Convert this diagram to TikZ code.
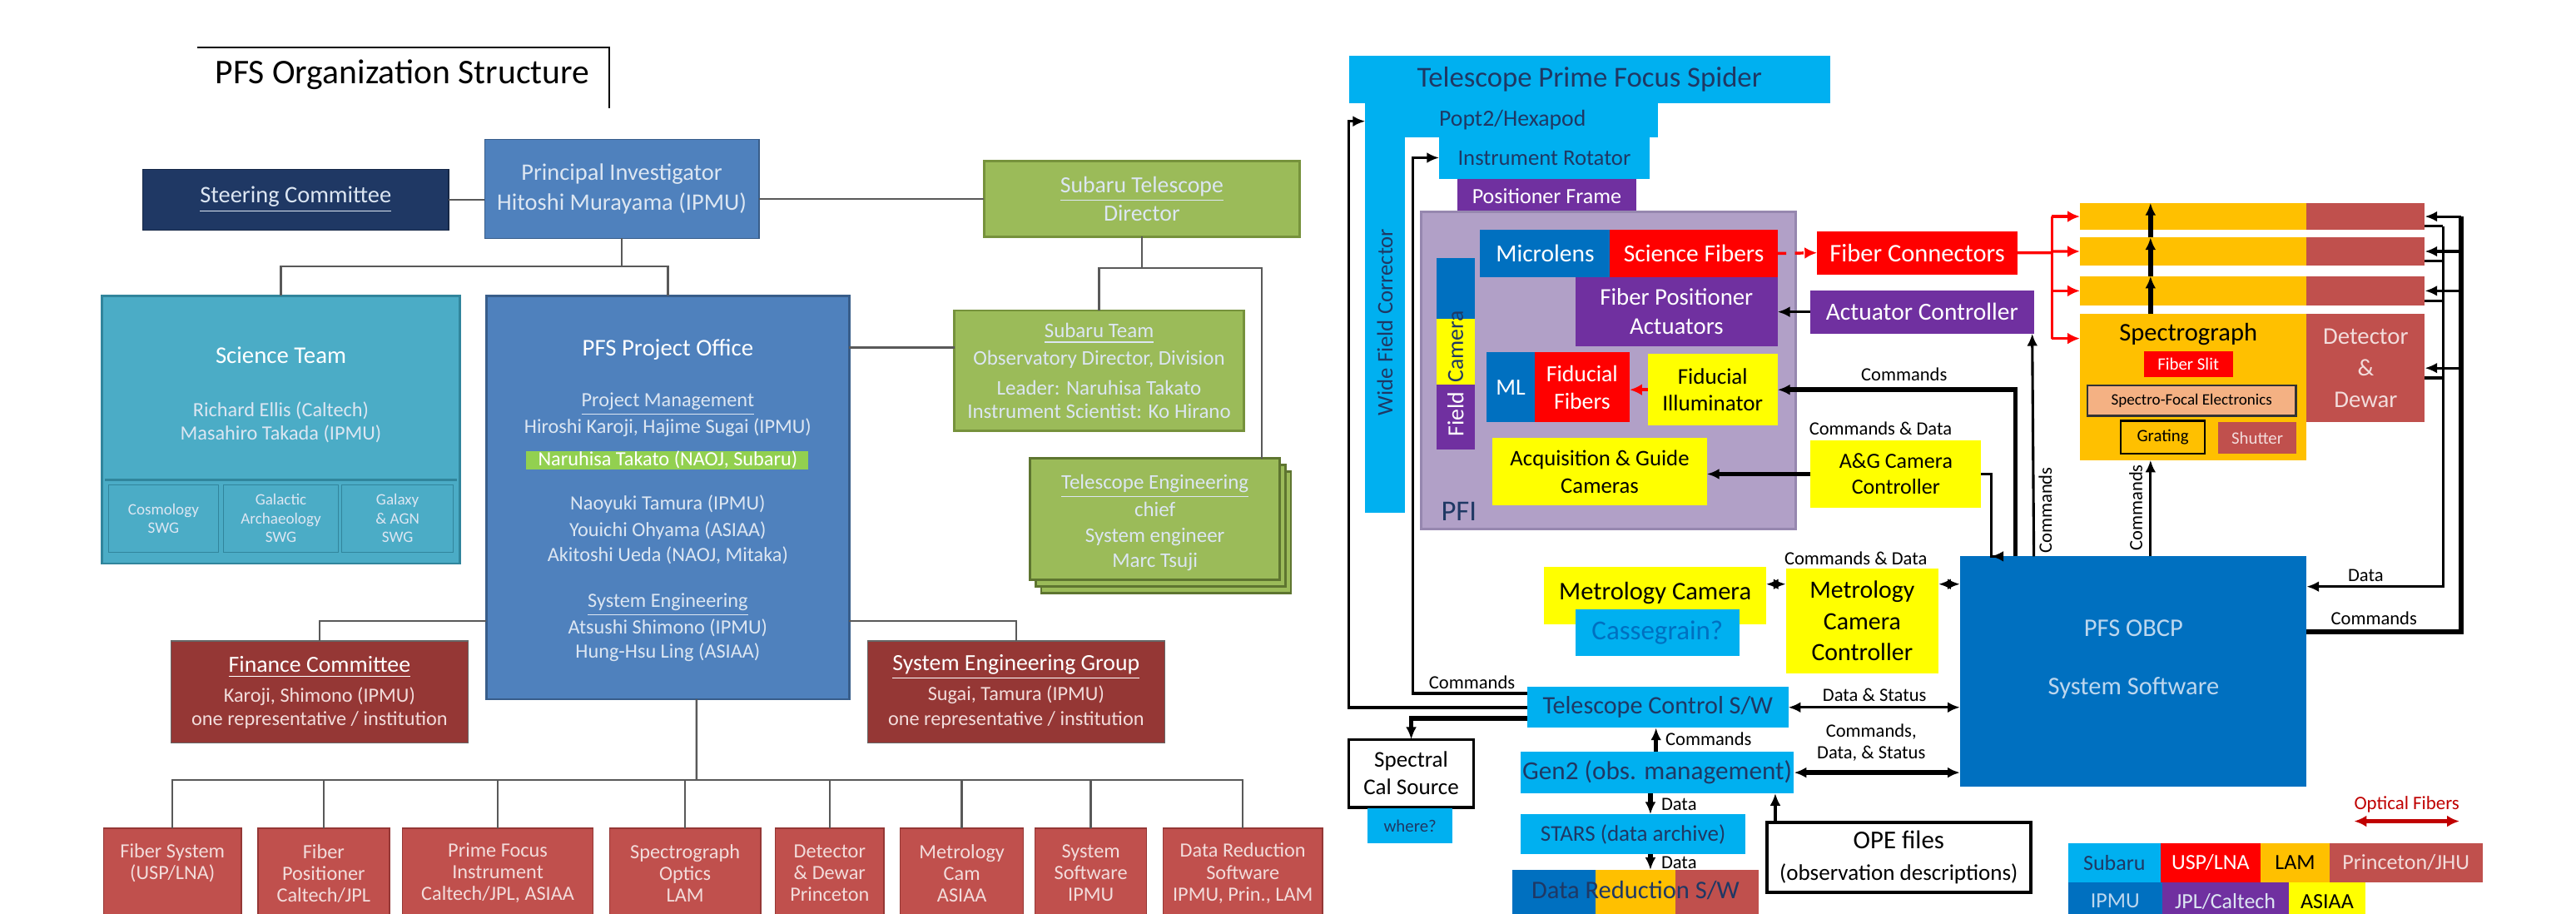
\documentclass[tikz,border=0pt]{standalone}
\usepackage{fontspec}
\setmainfont{Carlito}
\usetikzlibrary{arrows.meta}
\definecolor{cNavy}{RGB}{31,56,100}
\definecolor{cSteel}{RGB}{79,129,189}
\definecolor{cSteelB}{RGB}{56,93,138}
\definecolor{cSci}{RGB}{75,172,198}
\definecolor{cSciB}{RGB}{49,133,156}
\definecolor{cOlive}{RGB}{155,187,89}
\definecolor{cOliveB}{RGB}{118,146,60}
\definecolor{cMaroon}{RGB}{149,55,53}
\definecolor{cBrick}{RGB}{192,80,77}
\definecolor{cLime}{RGB}{146,208,80}
\definecolor{cLine}{RGB}{89,89,89}
\definecolor{cCyan}{RGB}{0,176,240}
\definecolor{cBlue}{RGB}{0,112,192}
\definecolor{cPurple}{RGB}{112,48,160}
\definecolor{cLav}{RGB}{177,160,199}
\definecolor{cLavB}{RGB}{150,135,175}
\definecolor{cRed}{RGB}{255,0,0}
\definecolor{cYel}{RGB}{255,255,0}
\definecolor{cOrange}{RGB}{255,192,0}
\definecolor{cPeach}{RGB}{244,177,131}
\definecolor{cDkRed}{RGB}{192,0,0}
\definecolor{cPale}{RGB}{220,230,242}
\definecolor{cPink}{RGB}{242,220,219}
\definecolor{cLtBlue}{RGB}{189,215,238}
\newcommand\fs[2]{\fontsize{#1}{#2}\selectfont}
\newcommand\RB[7]{\node[rb,#6,minimum width={(#4-#2)*0.2mm},minimum height={(#5-#3)*0.2mm}] (#1) at (#2,#3) {#7};}
\begin{document}
\begin{tikzpicture}[x=0.2mm,y=-0.2mm,
  rb/.style={anchor=north west,inner sep=0pt,outer sep=0pt,align=center},
  tx/.style={inner sep=0pt,outer sep=0pt,align=center},
  org/.style={draw=cLine,line width=0.7pt},
  blk/.style={draw=black,line width=0.9pt,-{Latex[length=1.5mm,width=1.3mm]}},
  blkb/.style={draw=black,line width=0.9pt,{Latex[length=1.5mm,width=1.3mm]}-{Latex[length=1.5mm,width=1.3mm]}},
  thk/.style={line width=1.6pt},
  fib/.style={draw=cRed,line width=1pt,-{Latex[length=1.5mm,width=1.4mm]}},
  lbl/.style={tx,font=\fs{6.5}{7.5}}]
\useasboundingbox (0,0) rectangle (1568,556);
\fill[white] (0,0) rectangle (1568,556);

%================ LEFT: organisation =================
\node[tx,font=\fs{12}{14}] (title) at (245,45.5) {PFS Organization Structure};
\draw[line width=0.6pt] (120,29) -- (371,29) -- (371,66);

\RB{steer}{87}{103}{273}{140}{fill=cNavy,draw=cNavy!70!black,text=cPale,font=\fs{8.2}{10}}{\underline{Steering Committee}}
\RB{pi}{295}{85}{462}{145}{fill=cSteel,draw=cSteelB,text=cPale,font=\fs{8.2}{10.5}}{Principal Investigator\\Hitoshi Murayama (IPMU)}
\RB{subtel}{599}{98}{791}{144}{fill=cOlive,draw=cOliveB,line width=0.8pt,text=cPale,font=\fs{8}{10}}{\underline{Subaru Telescope}\\Director}

% Science team
\RB{sci}{62}{180}{280}{343}{fill=cSci,draw=cSciB,line width=0.8pt}{}
\node[tx,text=white,font=\fs{8.3}{10}] (sciT) at (171,216) {Science Team};
\node[tx,text=cPale,font=\fs{7}{8}] (sciN) at (171,257) {Richard Ellis (Caltech)\\Masahiro Takada (IPMU)};
\draw[cSciB,line width=0.8pt] (64,292) -- (278,292);
\RB{swa}{66}{295}{133}{336}{fill=cSci,draw=cSciB,text=cPale,font=\fs{5.5}{6.5}}{Cosmology\\SWG}
\RB{swb}{136}{295}{206}{336}{fill=cSci,draw=cSciB,text=cPale,font=\fs{5.5}{6.5}}{Galactic\\Archaeology\\SWG}
\RB{swc}{208}{295}{276}{336}{fill=cSci,draw=cSciB,text=cPale,font=\fs{5.5}{6.5}}{Galaxy\\\& AGN\\SWG}

% Project office
\RB{po}{296}{180}{517}{425.6}{fill=cSteel,draw=cSteelB,line width=0.8pt}{}
\RB{band}{320}{274.5}{492}{285.5}{fill=cLime}{}
\node[tx,text=white,font=\fs{8.3}{10}] (poT) at (406.5,213) {PFS Project Office};
\node[tx,text=cPale,font=\fs{7}{8}] (poA) at (406.5,246) {\underline{Project Management}};
\node[tx,text=cPale,font=\fs{7}{8}] (poB) at (406.5,260) {Hiroshi Karoji, Hajime Sugai (IPMU)};
\node[tx,text=white,font=\fs{7}{8}] (poC) at (406.5,280) {Naruhisa Takato (NAOJ, Subaru)};
\node[tx,text=cPale,font=\fs{7}{8}] (poD) at (406.5,307) {Naoyuki Tamura (IPMU)};
\node[tx,text=cPale,font=\fs{7}{8}] (poE) at (406.5,323) {Youichi Ohyama (ASIAA)};
\node[tx,text=cPale,font=\fs{7}{8}] (poF) at (406.5,338) {Akitoshi Ueda (NAOJ, Mitaka)};
\node[tx,text=cPale,font=\fs{7}{8}] (poG) at (406.5,368) {\underline{System Engineering}};
\node[tx,text=cPale,font=\fs{7}{8}] (poH) at (406.5,382) {Atsushi Shimono (IPMU)};
\node[tx,text=cPale,font=\fs{7}{8}] (poI) at (406.5,397) {Hung-Hsu Ling (ASIAA)};

% Subaru team
\RB{subteam}{581}{189}{757}{262}{fill=cOlive,draw=cOliveB,line width=0.8pt}{}
\node[tx,text=cPale,font=\fs{7.2}{8}] (stA) at (669,203) {\underline{Subaru Team}};
\node[tx,text=cPale,font=\fs{7.2}{8}] (stB) at (669,219) {Observatory Director, Division};
\node[tx,text=cPale,font=\fs{7.2}{8}] (stC) at (669,236) {Leader: Naruhisa Takato};
\node[tx,text=cPale,font=\fs{7.2}{8}] (stD) at (669,250) {Instrument Scientist: Ko Hirano};

% Telescope engineering (stacked)
\RB{teB}{633.8}{286.8}{785.8}{360.8}{fill=cOlive,draw=cOliveB!80!black,line width=0.8pt}{}
\RB{teA}{630.4}{282.9}{782.4}{356.9}{fill=cOlive,draw=cOliveB!80!black,line width=0.8pt}{}
\RB{teleng}{627}{279}{779}{353}{fill=cOlive,draw=cOliveB!80!black,line width=0.8pt}{}
\node[tx,text=cPale,font=\fs{7.2}{8}] (teT1) at (703,296) {\underline{Telescope Engineering}};
\node[tx,text=cPale,font=\fs{7.2}{8}] (teT2) at (703,310) {chief};
\node[tx,text=cPale,font=\fs{7.2}{8}] (teT3) at (703,327) {System engineer};
\node[tx,text=cPale,font=\fs{7.2}{8}] (teT4) at (703,342) {Marc Tsuji};

% Committees
\RB{fin}{104}{390}{285}{452}{fill=cMaroon,draw=black!60}{}
\node[tx,text=white,font=\fs{8}{9}] (finA) at (194.5,406) {\underline{Finance Committee}};
\node[tx,text=cPink,font=\fs{7}{8}] (finB) at (194.5,424) {Karoji, Shimono (IPMU)};
\node[tx,text=cPink,font=\fs{7}{8}] (finC) at (194.5,438) {one representative / institution};
\RB{seg}{528}{390}{709}{452}{fill=cMaroon,draw=black!60}{}
\node[tx,text=white,font=\fs{8}{9}] (segA) at (618.5,406) {\underline{System Engineering Group}};
\node[tx,text=cPink,font=\fs{7}{8}] (segB) at (618.5,423) {Sugai, Tamura (IPMU)};
\node[tx,text=cPink,font=\fs{7}{8}] (segC) at (618.5,438) {one representative / institution};

% Bottom row
\RB{bA}{63}{504}{147}{575}{fill=cBrick,draw=cMaroon}{}
\RB{bB}{157}{504}{237}{575}{fill=cBrick,draw=cMaroon}{}
\RB{bC}{245}{504}{361}{575}{fill=cBrick,draw=cMaroon}{}
\RB{bD}{371}{504}{463}{575}{fill=cBrick,draw=cMaroon}{}
\RB{bE}{472}{504}{538}{575}{fill=cBrick,draw=cMaroon}{}
\RB{bF}{548}{504}{623}{575}{fill=cBrick,draw=cMaroon}{}
\RB{bG}{630}{504}{698}{575}{fill=cBrick,draw=cMaroon}{}
\RB{bH}{708}{504}{805}{575}{fill=cBrick,draw=cMaroon}{}
\node[tx,text=cPink,font=\fs{7}{7.5}] (bAt) at (105,525) {Fiber System\\(USP/LNA)};
\node[tx,text=cPink,font=\fs{7}{7.5}] (bBt) at (197,531.5) {Fiber\\Positioner\\Caltech/JPL};
\node[tx,text=cPink,font=\fs{7}{7.5}] (bCt) at (303,531.5) {Prime Focus\\Instrument\\Caltech/JPL, ASIAA};
\node[tx,text=cPink,font=\fs{7}{7.5}] (bDt) at (417,531.5) {Spectrograph\\Optics\\LAM};
\node[tx,text=cPink,font=\fs{7}{7.5}] (bEt) at (505,531.5) {Detector\\\& Dewar\\Princeton};
\node[tx,text=cPink,font=\fs{7}{7.5}] (bFt) at (585.5,531.5) {Metrology\\Cam\\ASIAA};
\node[tx,text=cPink,font=\fs{7}{7.5}] (bGt) at (664,531.5) {System\\Software\\IPMU};
\node[tx,text=cPink,font=\fs{7}{7.5}] (bHt) at (756.5,531.5) {Data Reduction\\Software\\IPMU, Prin., LAM};

% Org connectors
\draw[org] (steer.east) -- (steer.east -| pi.west);
\draw[org] (subtel.west -| pi.east) -- (subtel.west);
\coordinate (hubA) at (378.5,162);
\draw[org] (pi.south) -- (hubA);
\draw[org] (sci.north) |- (hubA) -| (po.north);
\draw[org] (po.east |- 0,211.5) -- (subteam.west |- 0,211.5);
\coordinate (hubB) at (695,163);
\draw[org] (subtel.south) -- (hubB);
\draw[org] (subteam.north) |- (hubB) -| ([xshift=13mm]teleng.north);
\draw[org] (fin.north) |- (po.west |- 0,378);
\draw[org] (seg.north) |- (po.east |- 0,378);
\coordinate (hubC) at (424,474.7);
\draw[org] ([xshift=3.5mm]po.south) -- (hubC);
\draw[org] (bA.north) |- (hubC) -| (bH.north);
\foreach \b in {bB,bC,bD,bE,bF,bG}{\draw[org] (\b.north) -- (\b.north |- hubC);}

%================ RIGHT: system block diagram =================
\RB{spider}{821}{34}{1114}{63}{fill=cCyan,text=cNavy,font=\fs{10}{12}}{Telescope Prime Focus Spider}
\RB{wfc}{831}{62}{855}{312}{fill=cCyan}{}
\node[tx,rotate=90,text=cNavy,font=\fs{7.7}{9}] (wfcT) at (843,196) {Wide Field Corrector};
\RB{popt}{831}{62}{1009}{83.5}{fill=cCyan}{}
\node[tx,anchor=west,text=cNavy,font=\fs{8}{9}] (poptT) at (876,73) {Popt2/Hexapod};
\RB{rot}{876}{83.5}{1004}{108.7}{fill=cCyan,text=cNavy,font=\fs{7.7}{9}}{Instrument Rotator}
\RB{pframe}{887}{108.7}{996}{130}{fill=cPurple,text=white,font=\fs{7.5}{9}}{Positioner Frame}
\RB{pfi}{865}{129}{1093}{322}{fill=cLav,draw=cLavB,line width=1pt}{}
\node[tx,text=cNavy,font=\fs{10}{12}] (pfiT) at (888,311) {PFI};
\RB{fcA}{874.6}{157}{897.6}{194}{fill=cBlue}{}
\RB{fcB}{874.6}{194}{897.6}{234}{fill=cYel}{}
\RB{fcC}{874.6}{234}{897.6}{273.5}{fill=cPurple}{}
\node[tx,rotate=90,text=cNavy,font=\fs{8}{9}] (fcamT) at (886,211) {Camera};
\node[tx,rotate=90,text=white,font=\fs{8}{9}] (fcamF) at (886,252) {Field};
\RB{mlens}{901}{139.7}{980}{168.8}{fill=cBlue,text=white,font=\fs{8.5}{10}}{Microlens}
\RB{sfib}{980}{139.7}{1082}{168.8}{fill=cRed,text=white,font=\fs{8.5}{10}}{Science Fibers}
\RB{fpa}{959}{168.8}{1082}{210.5}{fill=cPurple,text=white,font=\fs{8.3}{10}}{Fiber Positioner\\Actuators}
\RB{mlf}{905}{214.4}{934}{257}{fill=cBlue,text=white,font=\fs{8}{9.5}}{ML}
\RB{ffib}{934}{214.4}{992}{257}{fill=cRed,text=white,font=\fs{8}{9.5}}{Fiducial\\Fibers}
\RB{fill}{1003}{215.4}{1082}{259}{fill=cYel,text=black,font=\fs{7.8}{9.5}}{Fiducial\\Illuminator}
\RB{agc}{908.5}{266.7}{1039}{307.5}{fill=cYel,text=black,font=\fs{7.7}{9.5}}{Acquisition \& Guide\\Cameras}
\RB{fconn}{1106}{140.7}{1228}{167}{fill=cRed,text=white,font=\fs{8.8}{10}}{Fiber Connectors}
\RB{actc}{1102}{176.6}{1238}{203}{fill=cPurple,text=white,font=\fs{8.5}{10}}{Actuator Controller}
\RB{agctl}{1102}{268}{1206}{309}{fill=cYel,text=black,font=\fs{7.5}{9}}{A\&G Camera\\Controller}

% Spectrograph and detector
\RB{sA}{1266}{123.5}{1404}{140}{fill=cOrange}{}
\RB{sB}{1266}{144.5}{1404}{161.5}{fill=cOrange}{}
\RB{sC}{1266}{168}{1404}{186}{fill=cOrange}{}
\RB{spec}{1266}{191}{1404}{280}{fill=cOrange}{}
\RB{dA}{1404}{123.5}{1476}{140}{fill=cBrick}{}
\RB{dB}{1404}{144.5}{1476}{161.5}{fill=cBrick}{}
\RB{dC}{1404}{168}{1476}{186}{fill=cBrick}{}
\RB{det}{1404}{191}{1476}{257}{fill=cBrick,text=cPink,font=\fs{8.3}{11}}{Detector\\\&\\Dewar}
\node[tx,text=black,font=\fs{8.8}{10}] (specT) at (1332,203.5) {Spectrograph};
\RB{slit}{1305}{213.6}{1359}{229.5}{fill=cRed,text=white,font=\fs{6}{7}}{Fiber Slit}
\RB{elec}{1270.5}{234.6}{1397.6}{253}{fill=cPeach,draw=black!80,line width=0.7pt,text=black,font=\fs{5.5}{6.5}}{Spectro-Focal Electronics}
\RB{grat}{1291}{256}{1342}{276}{fill=cOrange,draw=black,line width=0.7pt,text=black,font=\fs{6}{7}}{Grating}
\RB{shut}{1350}{257}{1398}{276}{fill=cBrick,text=cPink,font=\fs{6}{7}}{Shutter}
\draw[blk,thk] (sB.north -| 1309,0) -- (sA.north -| 1309,0);
\draw[blk,thk] (sC.north -| 1309,0) -- (sB.north -| 1309,0);
\draw[blk,thk] (spec.north -| 1309,0) -- (sC.north -| 1309,0);

% Metrology etc.
\RB{metcam}{940}{345}{1075}{380}{fill=cYel,text=black,font=\fs{8.8}{10}}{\raisebox{1.2mm}{Metrology Camera}}
\RB{cass}{959}{370.6}{1058.7}{399}{fill=cCyan,text=cBlue,font=\fs{9.5}{11}}{Cassegrain?}
\RB{metctl}{1087}{346}{1180}{410}{fill=cYel,text=black,font=\fs{8.6}{10.8}}{Metrology\\Camera\\Controller}
\RB{obcp}{1193}{338.6}{1404}{479}{fill=cBlue}{}
\node[tx,text=cLtBlue,font=\fs{8.8}{10}] (obcpA) at (1298.7,382.5) {PFS OBCP};
\node[tx,text=cLtBlue,font=\fs{8.8}{10}] (obcpB) at (1298.7,418.8) {System Software};
\RB{tcs}{929.7}{418}{1088.5}{443}{fill=cCyan,text=cNavy,font=\fs{8.7}{10}}{Telescope Control S/W}
\RB{gen2}{925.5}{457.6}{1092}{482.8}{fill=cCyan,text=cNavy,font=\fs{9}{10}}{Gen2 (obs. management)}
\RB{stars}{925.5}{495.6}{1062.6}{520}{fill=cCyan,text=cNavy,font=\fs{7.8}{9}}{STARS (data archive)}
\RB{drsA}{920.5}{529.4}{971}{575}{fill=cBlue}{}
\RB{drsB}{971}{529.4}{1019.7}{575}{fill=cOrange}{}
\RB{drsC}{1019.7}{529.4}{1070.5}{575}{fill=cBrick}{}
\node[tx,text=cNavy,font=\fs{8.8}{10}] (drsT) at (995.5,542) {Data Reduction S/W};
\RB{cal}{821}{450}{897}{491.4}{fill=white,draw=black,line width=1pt,text=black,font=\fs{7.8}{9.5}}{Spectral\\Cal Source}
\RB{where}{832.6}{492}{884}{513}{fill=cCyan,text=cNavy,font=\fs{6}{7}}{where?}
\RB{ope}{1075.5}{500.6}{1236}{543}{fill=white,draw=black,line width=1.2pt,text=black,font=\fs{8.9}{11}}{OPE files\\{\fs{7.8}{9}(observation descriptions)}}

% Fibre connections (red)
\draw[fib,dashed] (sfib.east) -- (fconn.west);
\draw[fib,dashed] (fill.west) -- (fill.west -| ffib.east);
\coordinate (fibJ) at (1249,153.8);
\draw[draw=cRed,line width=1pt] (fconn.east) -- (fibJ);
\draw[draw=cRed,line width=1pt] (1249,131.75) -- (1249,206);
\draw[fib] (1249,131.75) -- (sA.west);
\draw[fib] (1249,153) -- (sB.west);
\draw[fib] (1249,177) -- (sC.west);
\draw[fib] (1249,206) -- (spec.west |- 0,206);

% Black command / data connections
\draw[blk] (actc.west) -- (actc.west -| fpa.east);
\draw[blk,thk] (obcp.north -| 1226.8,0) |- (fill.east);
\node[lbl] (cmdA) at (1159,228) {Commands};
\draw[blk,thk] (agctl.west) -- (agctl.west -| agc.east);
\draw[blk] (agctl.east) -- ++(1.2mm,0) |- (obcp.north -| 1212,0);
\node[lbl] (cmdB) at (1144.7,261) {Commands \& Data};
\draw[blk] (obcp.north -| actc.east) -- ([xshift=-0.2mm]actc.south east);
\node[lbl,rotate=90] (cmdC) at (1245,310.6) {Commands};
\draw[blk] (obcp.north -| 1309,0) -- (spec.south -| 1309,0);
\node[lbl,rotate=90] (cmdD) at (1300,309) {Commands};

% Detector links
\draw[draw=black,thk] (obcp.east |- 0,384.6) -| (1498,131.75);
\foreach \d in {dA,dB,dC,det}{\draw[blk] (\d.east -| 1498,0) -- (\d.east);}
\draw[blk] (1487,137.75) -- (1487,357) -- (obcp.east |- 0,357);
\foreach \d in {dA,dB,dC,det}{\draw[draw=black,line width=0.9pt] ([yshift=-1.2mm]\d.east) -- ([yshift=-1.2mm]\d.east -| 1487,0);}
\node[lbl] (datA) at (1440,350) {Data};
\node[lbl] (cmdE) at (1445,376.5) {Commands};

% Metrology links
\draw[blkb] (metcam.east |- 0,355.5) -- (metctl.west |- 0,355.5);
\draw[blkb] (metctl.east |- 0,355.5) -- (obcp.west |- 0,355.5);
\node[lbl] (cmdF) at (1129.6,340) {Commands \& Data};

% Telescope control / Gen2
\draw[blkb] (tcs.east) -- (tcs.east -| obcp.west);
\node[lbl] (dsA) at (1141,423) {Data \& Status};
\draw[blkb,thk] (gen2.east) -- (gen2.east -| obcp.west);
\node[lbl] (dsB) at (1139,452) {Commands,\\Data, \& Status};
\draw[blk,thk] (gen2.north -| 1008,0) -- (tcs.south -| 1008,0);
\node[lbl] (cmdG) at (1040,450) {Commands};
\draw[blk,thk] (gen2.south -| 1004.6,0) -- (stars.north -| 1004.6,0);
\node[lbl] (datB) at (1022,489.7) {Data};
\draw[blk,thk] (stars.south -| 1004.6,0) -- (drsB.north -| 1004.6,0);
\node[lbl] (datC) at (1022,525) {Data};
\draw[blk] (ope.north -| 1080.6,0) -- (gen2.south -| 1080.6,0);

% Telescope control to the prime focus and cal source
\draw[blk] (tcs.west |- 0,430.6) -| (821,73.8) -- (wfc.west |- 0,73.8);
\draw[blk] (tcs.west |- 0,422) -| (860,96) -- (rot.west |- 0,96);
\node[lbl] (cmdH) at (896,415.4) {Commands};
\draw[blk,thk] (tcs.west |- 0,437.3) -| (cal.north);

% Legend
\node[tx,text=cDkRed,font=\fs{6.6}{8}] (optT) at (1465,489.7) {Optical Fibers};
\draw[draw=cDkRed,line width=1.3pt,{Latex[length=1.5mm,width=1.4mm]}-{Latex[length=1.5mm,width=1.4mm]}] (optT.south west |- 0,499.8) -- (optT.south east |- 0,499.8);
\RB{lgA}{1259}{513}{1315}{537}{fill=cCyan,text=cNavy,font=\fs{7.5}{9}}{Subaru}
\RB{lgB}{1315}{513}{1376}{537}{fill=cRed,text=white,font=\fs{7.5}{9}}{USP/LNA}
\RB{lgC}{1376}{513}{1418}{537}{fill=cOrange,text=black,font=\fs{7.5}{9}}{LAM}
\RB{lgD}{1418}{513}{1511}{537}{fill=cBrick,text=cPink,font=\fs{7.5}{9}}{Princeton/JHU}
\RB{lgE}{1259}{537}{1316}{560}{fill=cBlue,text=cLtBlue,font=\fs{7.5}{9}}{IPMU}
\RB{lgF}{1316}{537}{1393}{560}{fill=cPurple,text=cPale,font=\fs{7.5}{9}}{JPL/Caltech}
\RB{lgG}{1393}{537}{1440}{560}{fill=cYel,text=black,font=\fs{7.5}{9}}{ASIAA}
\end{tikzpicture}
\end{document}
